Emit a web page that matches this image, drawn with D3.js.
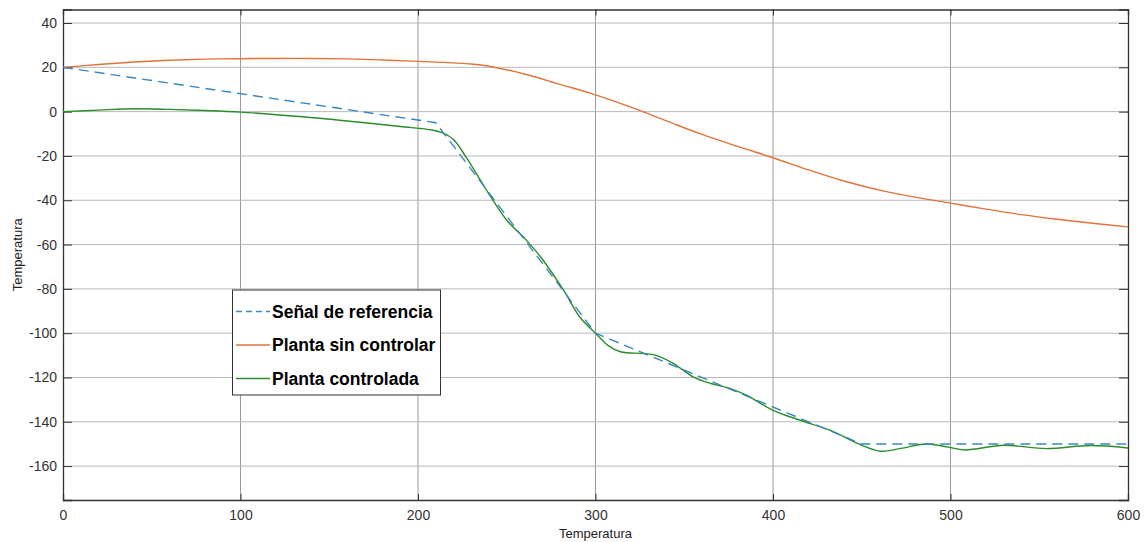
<!DOCTYPE html>
<html><head><meta charset="utf-8">
<script src="https://cdn.jsdelivr.net/npm/d3@7"></script>
<style>body{margin:0;background:#fff;}svg{display:block;font-family:"Liberation Sans",Arial,sans-serif;}</style>
</head><body><svg id="c" width="1146" height="542"></svg>
<script>
// Data
const xTicks = [0,100,200,300,400,500,600];
const yTicks = [-160,-140,-120,-100,-80,-60,-40,-20,0,20,40];
const refX = [0,210,300,450,600];
const refY = [20,-5,-100,-150,-150];
const plantX = [0,20,40,60,80,100,120,140,160,180,200,220,230,240,260,280,300,320,340,360,380,400,420,440,460,480,500,520,540,560,580,600];
const plantY = [20,21.3,22.4,23.2,23.7,23.9,24,24,23.8,23.3,22.7,22.0,21.5,20.5,17.0,12.3,7.6,2.0,-4.2,-10.3,-15.7,-20.8,-26.3,-31.3,-35.4,-38.6,-41.3,-44.0,-46.5,-48.6,-50.4,-52];
const ctrlX = [0,20,40,60,80,100,135,160,190,208,214,220,227,234,241,250,261,269,282,291,300,307,314,327,334,344,355,365,376,385,400,415,432,450,461,472,486,498,508,530,554,579,600];
const ctrlY = [0,0.7,1.3,1,0.5,-0.2,-2.3,-4.2,-6.7,-8.3,-9.6,-12.6,-20.4,-29.4,-38.5,-49,-58,-65.5,-80.6,-92.6,-100,-105.5,-108.4,-109.2,-110,-113.7,-119.7,-122.7,-125,-128,-134.8,-139.2,-143.8,-150.6,-153.3,-152,-150,-151.3,-152.7,-150.6,-152.1,-150.7,-151.8];
const names = ["Señal de referencia","Planta sin controlar","Planta controlada"];
const colors = ["#3a86c0","#e0733a","#2a8c2a"];

const L=63,R=1128,T=9.5,B=500;
const svg=d3.select("#c");
const x=d3.scaleLinear().domain([0,600]).range([L,R]);
const y=d3.scaleLinear().domain([-175.3,46.1]).range([B,T]);
const fmt=d=>String(d);

// grid
svg.append("g").selectAll("line").data(xTicks.slice(1,-1)).join("line")
 .attr("x1",d=>x(d)).attr("x2",d=>x(d)).attr("y1",T).attr("y2",B)
 .attr("stroke","#9a9a9a").attr("stroke-width",1);
svg.append("g").selectAll("line").data(yTicks).join("line")
 .attr("x1",L).attr("x2",R).attr("y1",d=>y(d)).attr("y2",d=>y(d))
 .attr("stroke","#b8b8b8").attr("stroke-width",1);

// axes
const axL=d3.axisLeft(y).tickValues(yTicks).tickFormat(fmt).tickSize(-9).tickPadding(6);
svg.append("g").attr("transform",`translate(${L},0)`).call(axL);
const axR=d3.axisRight(y).tickValues(yTicks).tickSize(-9).tickFormat("");
svg.append("g").attr("transform",`translate(${R},0)`).call(axR);
const axB=d3.axisBottom(x).tickValues(xTicks).tickFormat(fmt).tickSize(-6).tickPadding(10);
svg.append("g").attr("transform",`translate(0,${B})`).call(axB);
const axT=d3.axisTop(x).tickValues(xTicks).tickSize(-6).tickFormat("");
svg.append("g").attr("transform",`translate(0,${T})`).call(axT);
svg.selectAll(".domain").attr("stroke","#333").attr("stroke-width",1.3);
svg.selectAll(".tick line").attr("stroke","#333");
svg.selectAll(".tick text").attr("fill","#333").attr("font-size",14).style("font-size","14px").style("font-family","Liberation Sans, Arial, sans-serif");

// lines
const mk=(xs,ys)=>xs.map((v,i)=>[v,ys[i]]);
const lineS=d3.line().x(d=>x(d[0])).y(d=>y(d[1])).curve(d3.curveCatmullRom.alpha(0.5));
const lineL=d3.line().x(d=>x(d[0])).y(d=>y(d[1]));
svg.append("path").datum(mk(plantX,plantY)).attr("d",lineS).attr("fill","none").attr("stroke",colors[1]).attr("stroke-width",1.4);
svg.append("path").datum(mk(ctrlX,ctrlY)).attr("d",lineS).attr("fill","none").attr("stroke",colors[2]).attr("stroke-width",1.4);
svg.append("path").datum(mk(refX,refY)).attr("d",lineL).attr("fill","none").attr("stroke",colors[0]).attr("stroke-width",1.4).attr("stroke-dasharray","10,6");

// axis titles
svg.append("text").attr("x",(L+R)/2).attr("y",538).attr("text-anchor","middle").attr("fill","#222").style("font-size","13px").text("Temperatura");
svg.append("text").attr("transform",`translate(22,${(T+B)/2}) rotate(-90)`).attr("text-anchor","middle").attr("fill","#222").style("font-size","13px").text("Temperatura");

// legend
const lg=svg.append("g");
lg.append("rect").attr("x",232.5).attr("y",290).attr("width",208).attr("height",105).attr("fill","#fff").attr("stroke","#333").attr("stroke-width",1);
names.forEach((n,i)=>{
  const cy=311.5+i*33.5;
  lg.append("line").attr("x1",236).attr("x2",270).attr("y1",cy).attr("y2",cy).attr("stroke",colors[i]).attr("stroke-width",1.4).attr("stroke-dasharray",i==0?"6,4":null);
  lg.append("text").attr("x",272).attr("y",cy+6).attr("fill","#000").style("font-size","17.5px").style("font-weight","bold").text(n);
});
</script></body></html>
